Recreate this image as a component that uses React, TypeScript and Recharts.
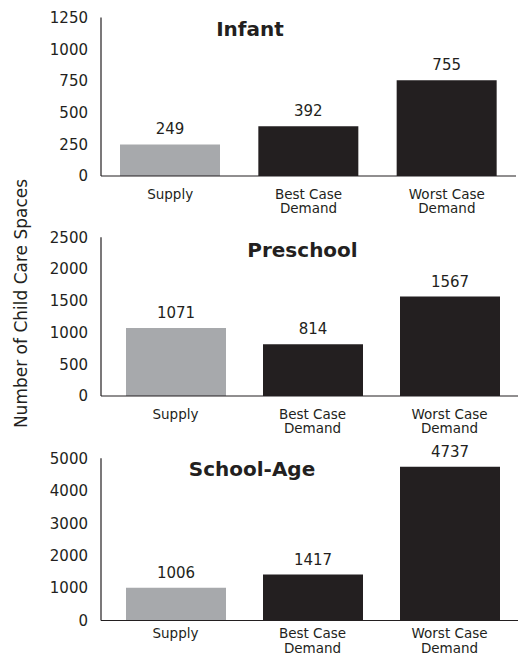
import React from 'react';
import { BarChart, Bar, XAxis, YAxis, Cell, LabelList } from 'recharts';

const categories = ['Supply', 'Best Case|Demand', 'Worst Case|Demand'];
const infantValues = [249, 392, 755];
const preschoolValues = [1071, 814, 1567];
const schoolAgeValues = [1006, 1417, 4737];
const infantTicks = [0, 250, 500, 750, 1000, 1250];
const preschoolTicks = [0, 500, 1000, 1500, 2000, 2500];
const schoolAgeTicks = [0, 1000, 2000, 3000, 4000, 5000];
const barColors = ['#a7a9ac', '#231f20', '#231f20'];
const panelTitles = ['Infant', 'Preschool', 'School-Age'];
const yAxisTitle = 'Number of Child Care Spaces';

const FONT = '"DejaVu Sans", sans-serif';
const INK = '#231f20';

function CategoryTick(props: any) {
  const { x, y, payload, firstLineOffset } = props;
  const lines = String(payload.value).split('|');
  return (
    <text x={x} y={y + firstLineOffset} textAnchor="middle" fontFamily={FONT} fontSize={13.5} fill={INK}>
      {lines.map((l, i) => (
        <tspan key={i} x={x} dy={i === 0 ? 0 : 14.5}>
          {l}
        </tspan>
      ))}
    </text>
  );
}

type PanelProps = {
  values: number[];
  ticks: number[];
  top: number;
  marginTop: number;
  marginBottom: number;
  marginRight: number;
  padLeft: number;
  tickOffset: number;
};

function Panel({ values, ticks, top, marginTop, marginBottom, marginRight, padLeft, tickOffset }: PanelProps) {
  const data = categories.map((c, i) => ({ category: c, value: values[i] }));
  return (
    <div style={{ position: 'absolute', left: 0, top, width: 520, height: 240 }}>
      <BarChart
        width={520}
        height={240}
        data={data}
        margin={{ top: marginTop, right: marginRight, bottom: marginBottom, left: 0 }}
      >
        <XAxis
          dataKey="category"
          interval={0}
          height={50}
          tickLine={false}
          tickSize={0}
          tickMargin={0}
          axisLine={{ stroke: INK, strokeWidth: 1.2 }}
          padding={{ left: padLeft, right: 0 }}
          tick={<CategoryTick firstLineOffset={tickOffset} />}
        />
        <YAxis
          type="number"
          domain={[0, ticks[ticks.length - 1]]}
          ticks={ticks}
          interval={0}
          width={101}
          tickLine={false}
          tickSize={0}
          tickMargin={13}
          axisLine={{ stroke: INK, strokeWidth: 1.2 }}
          tick={{ fontFamily: FONT, fontSize: 15, fill: INK }}
        />
        <Bar dataKey="value" barSize={100} isAnimationActive={false}>
          {data.map((d, i) => (
            <Cell key={i} fill={barColors[i]} />
          ))}
          <LabelList
            dataKey="value"
            position="top"
            offset={10}
            style={{ fontFamily: FONT, fontSize: 15, fill: INK }}
          />
        </Bar>
      </BarChart>
    </div>
  );
}

export default function App() {
  return (
    <div
      style={{
        position: 'absolute',
        left: 0,
        top: 0,
        width: 520,
        height: 656,
        overflow: 'hidden',
        background: '#ffffff',
      }}
    >
      <Panel values={infantValues} ticks={infantTicks} top={0} marginTop={17.5} marginBottom={14} marginRight={4} padLeft={0} tickOffset={22.5} />
      <Panel values={preschoolValues} ticks={preschoolTicks} top={220} marginTop={17.3} marginBottom={14} marginRight={2} padLeft={6} tickOffset={22.5} />
      <Panel values={schoolAgeValues} ticks={schoolAgeTicks} top={440} marginTop={18.3} marginBottom={9.5} marginRight={2} padLeft={6} tickOffset={17.5} />
      <svg
        width={520}
        height={656}
        style={{ position: 'absolute', left: 0, top: 0, pointerEvents: 'none' }}
      >
        <text x={250} y={36} textAnchor="middle" fontFamily={FONT} fontWeight="bold" fontSize={20} fill={INK}>
          {panelTitles[0]}
        </text>
        <text x={302.5} y={256.5} textAnchor="middle" fontFamily={FONT} fontWeight="bold" fontSize={20} fill={INK}>
          {panelTitles[1]}
        </text>
        <text x={252} y={476} textAnchor="middle" fontFamily={FONT} fontWeight="bold" fontSize={20} fill={INK}>
          {panelTitles[2]}
        </text>
        <text
          x={27}
          y={303.5}
          transform="rotate(-90, 27, 303.5)"
          textAnchor="middle"
          fontFamily={FONT}
          fontSize={17}
          fill={INK}
        >
          {yAxisTitle}
        </text>
      </svg>
    </div>
  );
}
